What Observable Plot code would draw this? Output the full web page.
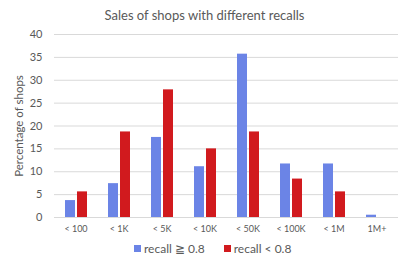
<!DOCTYPE html>
<html><head><meta charset="utf-8">
<script src="https://cdn.jsdelivr.net/npm/d3@7"></script>
<script src="https://cdn.jsdelivr.net/npm/@observablehq/plot@0.6"></script>
<style>
body{margin:0;background:#fff;}
#wrap{position:relative;width:409px;height:263px;font-family:Lato,"Liberation Sans",sans-serif;color:#595959;}
#wrap svg{position:absolute;left:0;top:0;}
#title{position:absolute;top:7px;left:0;width:409px;text-align:center;font-size:13px;}
#ylabel{position:absolute;left:18px;top:126px;transform:translate(-50%,-50%) rotate(-90deg);white-space:nowrap;font-size:11.5px;}
#legend{position:absolute;top:241px;left:134px;display:flex;align-items:center;font-size:12px;}
#legend .item{display:flex;align-items:center;margin-right:19px;}
#legend .sw{width:7px;height:7px;margin-right:3px;}
</style>
</head><body>
<div id="wrap">
<div id="title"></div>
<div id="ylabel"></div>
<div id="legend"></div>
</div>
<script>
const titleText = "Sales of shops with different recalls";
const yLabel = "Percentage of shops";
const categories = ["< 100", "< 1K", "< 5K", "< 10K", "< 50K", "< 100K", "< 1M", "1M+"];
const seriesNames = ["recall ≧ 0.8", "recall < 0.8"];
const highRecall = [3.7, 7.4, 17.5, 11.1, 35.7, 11.7, 11.7, 0.5];
const lowRecall = [5.6, 18.7, 27.9, 15.0, 18.7, 8.4, 5.6, 0];
const yTicks = [0, 5, 10, 15, 20, 25, 30, 35, 40];
const colors = ["#6b84e6", "#d11a1e"];

const data = categories.flatMap((c, i) => [
  {cat: c, series: seriesNames[0], value: highRecall[i]},
  {cat: c, series: seriesNames[1], value: lowRecall[i]}
]);

const chart = Plot.plot({
  width: 409, height: 263,
  marginLeft: 51, marginRight: 9, marginTop: 34, marginBottom: 46,
  style: {fontFamily: "Lato, 'Liberation Sans', sans-serif", color: "#595959", background: "transparent", overflow: "visible"},
  fx: {domain: categories, padding: 0, label: null},
  x: {domain: seriesNames, paddingInner: 0.19, paddingOuter: 0.77, axis: null},
  y: {domain: [0, 40], label: null},
  color: {domain: seriesNames, range: colors},
  marks: [
    Plot.ruleY(yTicks, {stroke: "#d9d9d9", strokeWidth: 1}),
    Plot.barY(data, {fx: "cat", x: "series", y: "value", fill: "series"}),
    Plot.axisY(yTicks, {tickSize: 0, tickPadding: 12, label: null, fontSize: 11, fill: "#595959"}),
    Plot.axisFx({anchor: "bottom", tickSize: 0, tickPadding: 8, label: null, fontSize: 9, fill: "#595959"})
  ]
});
document.getElementById("wrap").prepend(chart);
document.getElementById("title").textContent = titleText;
document.getElementById("ylabel").textContent = yLabel;
const legend = document.getElementById("legend");
seriesNames.forEach((s, i) => {
  const item = document.createElement("div");
  item.className = "item";
  const sw = document.createElement("div");
  sw.className = "sw";
  sw.style.background = colors[i];
  const t = document.createElement("span");
  t.textContent = s;
  item.append(sw, t);
  legend.append(item);
});
</script>
</body></html>
